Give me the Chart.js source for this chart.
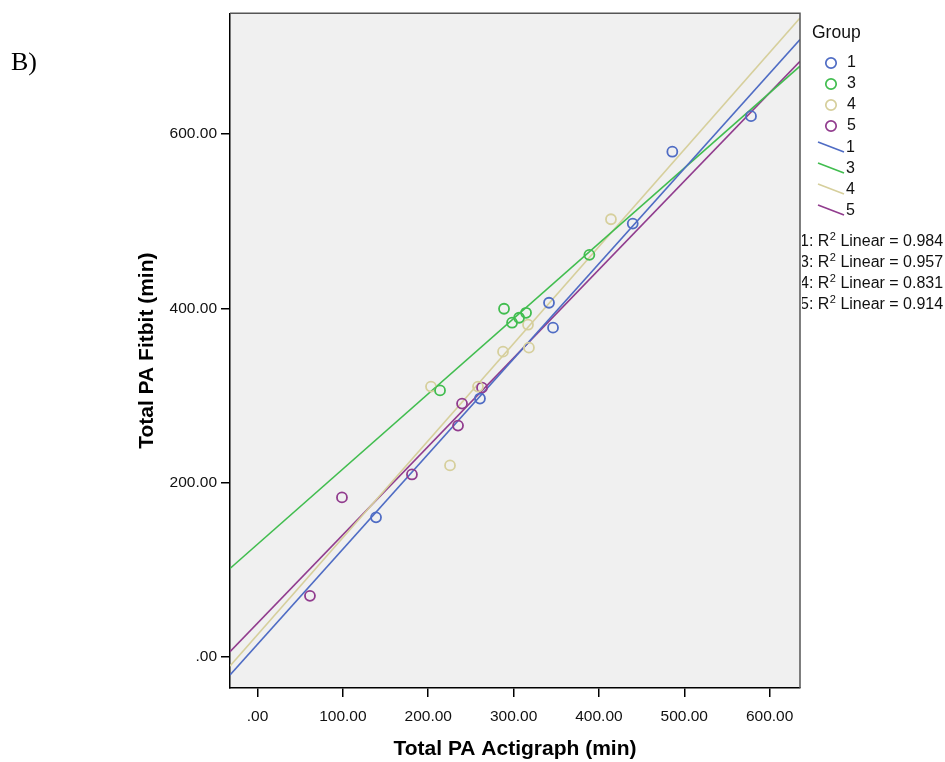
<!DOCTYPE html>
<html>
<head>
<meta charset="utf-8">
<script src="https://cdn.jsdelivr.net/npm/chart.js@4.4.1/dist/chart.umd.min.js"></script>
<style>
html,body{margin:0;padding:0;background:#fff;}
#wrap{position:relative;width:945px;height:762px;}
canvas{display:block;}
</style>
</head>
<body>
<div id="wrap"><canvas id="c" width="945" height="762"></canvas></div>
<script>
// ---- data ----
const groupNames = ['1', '3', '4', '5'];
const groupColors = ['#4f6cc4', '#41bd4f', '#d6cf9c', '#913c8e'];
const r2Values = ['0.984', '0.957', '0.831', '0.914'];

const g1X = [138.8, 260.6, 341.5, 346.2, 439.6, 486.0, 578.2];
const g1Y = [160.3, 296.6, 406.5, 377.9, 497.3, 579.8, 620.6];
const g3X = [213.8, 288.8, 298.2, 306.4, 314.6, 388.8];
const g3Y = [305.9, 399.6, 383.6, 389.3, 395.0, 461.5];
const g4X = [203.2, 225.5, 258.3, 287.6, 316.9, 318.0, 414.1];
const g4Y = [310.3, 219.9, 310.3, 350.4, 381.3, 355.0, 502.3];
const g5X = [61.4, 98.9, 180.9, 234.9, 239.6, 263.0];
const g5Y = [70.2, 183.2, 209.5, 265.6, 290.8, 309.1];

// fit-line end points (at the left and right edges of the plot)
const fitX = [-32.3, 635.6];
const fit1Y = [-20.6, 708.5];
const fit3Y = [101.6, 677.9];
const fit4Y = [-10.3, 733.2];
const fit5Y = [6.1, 683.6];

const xTicks = [0, 100, 200, 300, 400, 500, 600];
const yTicks = [0, 200, 400, 600];
const xRange = [-32.3, 635.6];
const yRange = [-35.5, 738.6];

const xTitle = 'Total PA Actigraph (min)';
const yTitle = 'Total PA Fitbit (min)';
const panelLabel = 'B)';

// ---- build datasets ----
const pts = (xs, ys) => xs.map((x, i) => ({x: x, y: ys[i]}));
const pointSets = [[g1X, g1Y], [g3X, g3Y], [g4X, g4Y], [g5X, g5Y]];
const fitSets = [fit1Y, fit3Y, fit4Y, fit5Y];

const datasets = [];
fitSets.forEach((ys, i) => {
  datasets.push({
    label: 'fit ' + groupNames[i],
    data: pts(fitX, ys),
    showLine: true,
    borderColor: groupColors[i],
    borderWidth: 1.6,
    pointRadius: 0,
    fill: false,
    clip: 0,
    order: 2
  });
});
pointSets.forEach((s, i) => {
  datasets.push({
    label: groupNames[i],
    data: pts(s[0], s[1]),
    showLine: false,
    pointStyle: 'circle',
    pointRadius: 5,
    pointBorderWidth: 1.8,
    pointBorderColor: groupColors[i],
    pointBackgroundColor: 'rgba(0,0,0,0)',
    order: 1
  });
});

const FONT = '"Liberation Sans", Arial, sans-serif';

const decor = {
  id: 'decor',
  beforeDraw(chart) {
    const {ctx, chartArea: a} = chart;
    ctx.save();
    ctx.fillStyle = '#f0f0f0';
    ctx.fillRect(a.left, a.top, a.right - a.left, a.bottom - a.top);
    ctx.restore();
  },
  afterDraw(chart) {
    const {ctx, chartArea: a} = chart;
    ctx.save();
    // frame top/right
    ctx.strokeStyle = '#555';
    ctx.lineWidth = 1.5;
    ctx.beginPath();
    ctx.moveTo(a.left, a.top);
    ctx.lineTo(a.right, a.top);
    ctx.lineTo(a.right, a.bottom);
    ctx.stroke();

    // panel label
    ctx.fillStyle = '#000';
    ctx.font = '26px "Liberation Serif", "Times New Roman", serif';
    ctx.textBaseline = 'middle';
    ctx.textAlign = 'left';
    ctx.fillText(panelLabel, 11, 63);

    // legend
    ctx.fillStyle = '#111';
    ctx.font = '17.5px ' + FONT;
    ctx.fillText('Group', 812, 33);
    ctx.font = '16px ' + FONT;
    groupNames.forEach((g, i) => {
      const y = 63 + 21 * i;
      ctx.beginPath();
      ctx.strokeStyle = groupColors[i];
      ctx.lineWidth = 1.7;
      ctx.arc(831, y, 5.2, 0, Math.PI * 2);
      ctx.stroke();
      ctx.fillStyle = '#111';
      ctx.fillText(g, 847, y);
    });
    groupNames.forEach((g, i) => {
      const y = 148 + 21 * i;
      ctx.beginPath();
      ctx.strokeStyle = groupColors[i];
      ctx.lineWidth = 1.6;
      ctx.moveTo(818, y - 6);
      ctx.lineTo(844, y + 4);
      ctx.stroke();
      ctx.fillStyle = '#111';
      ctx.fillText(g, 846, y);
    });
    // R^2 lines
    ctx.beginPath();
    ctx.rect(802, 225, 143, 100);
    ctx.clip();
    groupNames.forEach((g, i) => {
      const y = 242 + 21 * i;
      let x = 800;
      ctx.fillStyle = '#111';
      ctx.font = '16px ' + FONT;
      const p1 = g + ': R';
      ctx.fillText(p1, x, y);
      x += ctx.measureText(p1).width;
      ctx.font = '11px ' + FONT;
      ctx.fillText('2', x + 0.5, y - 5);
      x += ctx.measureText('2').width + 0.5;
      ctx.font = '16px ' + FONT;
      ctx.fillText(' Linear = ' + r2Values[i], x, y);
    });
    ctx.restore();
  }
};

new Chart(document.getElementById('c'), {
  type: 'scatter',
  data: {datasets: datasets},
  plugins: [decor],
  options: {
    responsive: false,
    animation: false,
    devicePixelRatio: 1,
    layout: {padding: {left: 130, right: 145, top: 12, bottom: 0}},
    plugins: {legend: {display: false}, tooltip: {enabled: false}},
    scales: {
      x: {
        type: 'linear',
        min: xRange[0], max: xRange[1],
        afterBuildTicks: s => { s.ticks = xTicks.map(v => ({value: v})); },
        afterFit: s => { s.height = 74; },
        grid: {display: true, drawOnChartArea: false, drawTicks: true, tickLength: 9, color: '#000', lineWidth: 1.5},
        border: {display: true, color: '#000', width: 1.5},
        ticks: {
          color: '#111', padding: 10, maxRotation: 0, autoSkip: false,
          font: {family: FONT, size: 15.5},
          callback: v => v === 0 ? '.00' : v.toFixed(2)
        },
        title: {display: true, text: xTitle, color: '#000', font: {family: FONT, size: 21, weight: 'bold'}, padding: {top: 0, bottom: 0}}
      },
      y: {
        type: 'linear',
        min: yRange[0], max: yRange[1],
        afterBuildTicks: s => { s.ticks = yTicks.map(v => ({value: v})); },
        afterFit: s => { s.width = 100; },
        grid: {display: true, drawOnChartArea: false, drawTicks: true, tickLength: 9, color: '#000', lineWidth: 1.5},
        border: {display: true, color: '#000', width: 1.5},
        ticks: {
          color: '#111', padding: 4, autoSkip: false,
          font: {family: FONT, size: 15.5},
          callback: v => v === 0 ? '.00' : v.toFixed(2)
        },
        title: {display: true, text: yTitle, color: '#000', font: {family: FONT, size: 21, weight: 'bold'}, padding: {top: 5, bottom: 0}}
      }
    }
  }
});
</script>
</body>
</html>
